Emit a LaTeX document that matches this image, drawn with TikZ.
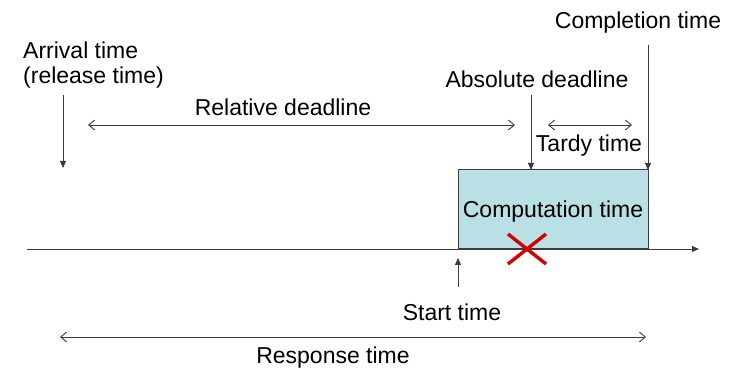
\documentclass[tikz,border=0pt]{standalone}
\usepackage{fontspec}
\setmainfont{Liberation Sans}
\usetikzlibrary{arrows.meta}
\definecolor{linegray}{RGB}{60,60,60}
\definecolor{boxfill}{RGB}{185,224,228}
\definecolor{crossred}{RGB}{210,0,0}
\begin{document}
\begin{tikzpicture}[x=1pt,y=-1pt,
  lbl/.style={anchor=base,inner sep=0pt,font=\fontsize{23}{27}\selectfont},
  lblw/.style={anchor=base west,inner sep=0pt,font=\fontsize{23}{27}\selectfont},
  thin line/.style={draw=linegray,line width=0.9pt},
  pointer/.style={thin line,-{Triangle[length=7pt,width=6pt]}},
  span/.style={thin line,{Straight Barb[length=6pt,width=10pt]}-{Straight Barb[length=6pt,width=10pt]}}]
\useasboundingbox (0,0) rectangle (734,371);

% time axis
\coordinate (ax0) at (27,249);
\coordinate (ax1) at (699,249);
\draw[pointer] (ax0) -- (ax1);

% execution interval
\node[draw=linegray,line width=0.9pt,fill=boxfill,minimum width=190pt,minimum height=79pt,inner sep=0pt,anchor=south west] (job) at (458,249) {};
\node[lbl] (comp) at (553,218) {Computation time};

% failed deadline mark
\coordinate (xa) at (508,234);
\coordinate (xb) at (546,264);
\coordinate (xc) at (546,234);
\coordinate (xd) at (508,264);
\draw[crossred,line width=3.4pt] (xa) -- (xb) (xc) -- (xd);

% arrival
\node[lblw] (arr1) at (23,59) {Arrival time};
\node[lblw] (arr2) at (23,84) {(release time)};
\coordinate (arrA) at (63,95);
\coordinate (arrB) at (63,168);
\draw[pointer] (arrA) -- (arrB);

% relative deadline
\node[lbl] (rel) at (283,116) {Relative deadline};
\coordinate (relA) at (88,125);
\coordinate (relB) at (515,125);
\draw[span] (relA) -- (relB);

% absolute deadline
\node[lbl] (abs) at (537,88) {Absolute deadline};
\coordinate (absA) at (531,95);
\coordinate (absB) at (531,170);
\draw[pointer] (absA) -- (absB);

% completion
\node[lbl] (cmpl) at (638,29) {Completion time};
\coordinate (cmpA) at (648,45);
\coordinate (cmpB) at (648,170);
\draw[pointer] (cmpA) -- (cmpB);

% tardiness
\node[lbl] (tardy) at (589,152) {Tardy time};
\coordinate (tarA) at (548,125);
\coordinate (tarB) at (632,125);
\draw[span] (tarA) -- (tarB);

% start
\node[lbl] (start) at (452,321) {Start time};
\coordinate (stA) at (458,287);
\coordinate (stB) at (458,258);
\draw[pointer] (stA) -- (stB);

% response
\node[lbl] (resp) at (333,363) {Response time};
\coordinate (rspA) at (60,337);
\coordinate (rspB) at (646,337);
\draw[span] (rspA) -- (rspB);
\end{tikzpicture}
\end{document}
